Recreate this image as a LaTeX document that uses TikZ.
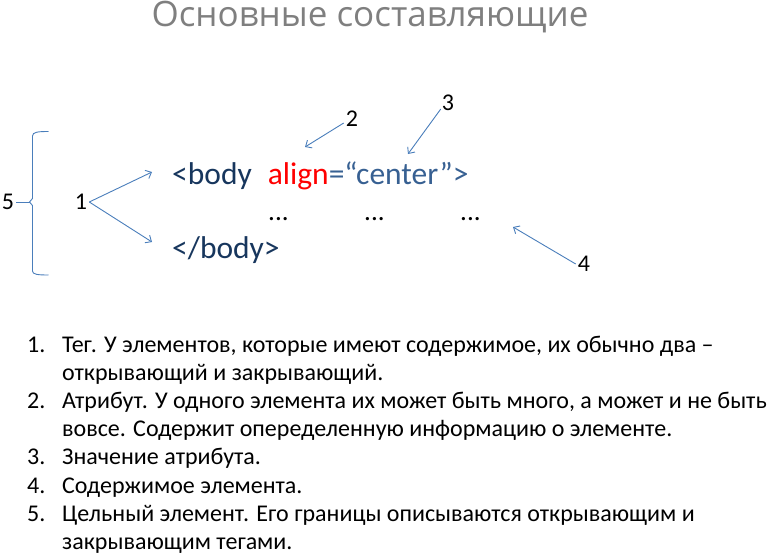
\documentclass[tikz,border=0pt]{standalone}
\usepackage{fontspec}
\setmainfont{Carlito}
\newfontfamily\titlefont{Open Sans}
\usepackage{xcolor}
\usetikzlibrary{arrows.meta}
\definecolor{tagdark}{HTML}{17365D}
\definecolor{valblue}{HTML}{376092}
\definecolor{arrowblue}{HTML}{4A7EBB}
\definecolor{titlegray}{HTML}{7F7F7F}

\begin{document}
\begin{tikzpicture}[x=1pt, y=-1pt, inner sep=0pt,
    >={Straight Barb[length=5pt,width=9pt]},
    conn/.style={draw=arrowblue, line width=0.9pt},
    num/.style={font=\fontsize{24}{28}\selectfont},
    dots/.style={anchor=base west, font=\fontsize{27}{30}\selectfont},
    code/.style={anchor=base west, font=\fontsize{31.5}{36}\selectfont},
    item/.style={anchor=base west, font=\fontsize{24}{28}\selectfont}]
  \useasboundingbox (0,0) rectangle (773,554);

  \node[anchor=base, font=\titlefont\fontsize{35}{40}\selectfont, text=titlegray] (t) at (370,27) {Основные составляющие};

  % the element
  \node[code] (a) at (172,184)
    {{\color{tagdark}<body}\hspace{16pt}{\color{red}align}{\color{valblue}=“center”>}};
  \node[dots] (b) at (268,220) {...};
  \node[dots] (c) at (364,220) {...};
  \node[dots] (d) at (460,220) {...};
  \node[code, text=tagdark] (e) at (172,258) {</body>};

  % numbers
  \node[num] (n5) at (8,202) {5};
  \node[num] (n1) at (81,202) {1};
  \node[num] (n2) at (352,119) {2};
  \node[num] (n3) at (448,103) {3};
  \node[num] (n4) at (584,264) {4};

  \coordinate (p1) at (152,172);
  \coordinate (q1) at (152,242);
  \coordinate (p2) at (305,147);
  \coordinate (p3) at (408,154);
  \coordinate (p4) at (513,227);
  \coordinate (tip) at (29.5,202);

  \draw [conn, ->] (n1.east) ++(2,0) to (p1);
  \draw [conn, ->] (n1.east) ++(2,0) to (q1);
  \draw [conn, ->] (n2.south west) ++(-2,-4) to (p2);
  \draw [conn, ->] (n3.south west) ++(-1,-2) to (p3);
  \draw [conn, ->] (n4.west) ++(-2,0) to (p4);

  % brace
  \draw [conn] (n5.east) ++(2,0) -- (tip);
  \draw [conn] (48.5,131.5) .. controls (38,131.5) and (32.5,132) .. (32.5,136) -- (32.5,198.5) -- (tip)
        -- (32.5,205.5) -- (32.5,271) .. controls (32.5,274.5) and (38,275) .. (48.5,275);

  % the list
  \node[item] (l1) at (27,352) {1.};
  \node[item] (m1) at (62,352) {Тег. У элементов, которые имеют содержимое, их обычно два –};
  \node[item] (m1b) at (62,380) {открывающий и закрывающий.};
  \node[item] (l2) at (27,408) {2.};
  \node[item] (m2) at (62,408) {Атрибут. У одного элемента их может быть много, а может и не быть};
  \node[item] (m2b) at (62,436) {вовсе. Содержит опеределенную информацию о элементе.};
  \node[item] (l3) at (27,464) {3.};
  \node[item] (m3) at (62,464) {Значение атрибута.};
  \node[item] (l4) at (27,493) {4.};
  \node[item] (m4) at (62,493) {Содержимое элемента.};
  \node[item] (l5) at (27,521) {5.};
  \node[item] (m5) at (62,521) {Цельный элемент. Его границы описываются открывающим и};
  \node[item] (m5b) at (62,549) {закрывающим тегами.};

\end{tikzpicture}
\end{document}
